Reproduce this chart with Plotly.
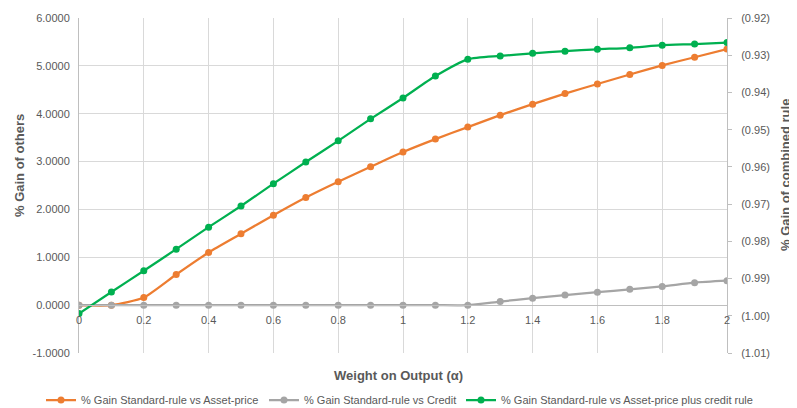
import plotly.graph_objects as go

alpha = [0, 0.1, 0.2, 0.3, 0.4, 0.5, 0.6, 0.7, 0.8, 0.9, 1.0,
         1.1, 1.2, 1.3, 1.4, 1.5, 1.6, 1.7, 1.8, 1.9, 2.0]

gain_asset = [0.0, 0.0, 0.16, 0.64, 1.10, 1.49, 1.88, 2.25, 2.58, 2.89, 3.20,
              3.47, 3.72, 3.97, 4.20, 4.42, 4.62, 4.82, 5.01, 5.18, 5.35]

gain_credit = [0.0, 0.0, 0.0, 0.0, 0.0, 0.0, 0.0, 0.0, 0.0, 0.0, 0.0,
               0.0, 0.0, 0.075, 0.146, 0.21, 0.27, 0.33, 0.39, 0.47, 0.51]

gain_combined = [-0.9994, -0.9936, -0.9879, -0.9821, -0.9762, -0.9705, -0.9645,
                 -0.9587, -0.9530, -0.9471, -0.9415, -0.9356, -0.9311, -0.9302,
                 -0.9295, -0.9289, -0.9284, -0.9280, -0.9273, -0.9270, -0.9266]

left_ticks = [-1, 0, 1, 2, 3, 4, 5, 6]
left_labels = ["-1.0000", "0.0000", "1.0000", "2.0000", "3.0000", "4.0000", "5.0000", "6.0000"]
right_ticks = [-1.01, -1.00, -0.99, -0.98, -0.97, -0.96, -0.95, -0.94, -0.93, -0.92]
right_labels = ["(1.01)", "(1.00)", "(0.99)", "(0.98)", "(0.97)", "(0.96)", "(0.95)", "(0.94)", "(0.93)", "(0.92)"]
x_ticks = [0, 0.2, 0.4, 0.6, 0.8, 1.0, 1.2, 1.4, 1.6, 1.8, 2.0]
x_labels = ["0", "0.2", "0.4", "0.6", "0.8", "1", "1.2", "1.4", "1.6", "1.8", "2"]

names = ["% Gain Standard-rule vs Asset-price",
         "% Gain Standard-rule vs Credit",
         "% Gain Standard-rule vs Asset-price plus credit rule"]
colors = ["#ED7D31", "#A5A5A5", "#00B050"]

FONT = "Liberation Sans"
TXT = "#595959"

# page body has an 8px margin, so the figure is 8px smaller and all
# reference pixel positions are shifted by 8
OFF = 8
W, H = 797 - OFF, 408 - OFF
PL, PR, PT, PB = 79 - OFF, 727 - OFF, 18 - OFF, 353 - OFF
PW, PH = PR - PL, PB - PT


def px(xr):
    return (xr - OFF - PL) / PW


def py(yr):
    return (PB - (yr - OFF)) / PH


fig = go.Figure()
for ys, nm, c, ax, lg in [(gain_asset, names[0], colors[0], "y", "legend"),
                          (gain_credit, names[1], colors[1], "y", "legend2"),
                          (gain_combined, names[2], colors[2], "y2", "legend3")]:
    fig.add_trace(go.Scatter(
        x=alpha, y=ys, name=nm, yaxis=ax, mode="lines+markers", legend=lg,
        line=dict(color=c, width=2.25, shape="spline", smoothing=0.6),
        marker=dict(color=c, size=7),
    ))

leg_common = dict(orientation="h", y=py(400), yanchor="middle", xanchor="left",
                  font=dict(size=11, color=TXT, family=FONT), itemwidth=30,
                  bgcolor="rgba(0,0,0,0)", borderwidth=0)

fig.update_layout(
    width=W, height=H,
    margin=dict(l=PL, r=W - PR, t=PT, b=H - PB, autoexpand=False),
    paper_bgcolor="white", plot_bgcolor="white",
    font=dict(family=FONT, size=11, color=TXT),
    showlegend=True,
    legend=dict(x=px(41), **leg_common),
    legend2=dict(x=px(264), **leg_common),
    legend3=dict(x=px(461), **leg_common),
    xaxis=dict(range=[0, 2], tickvals=x_ticks, ticktext=x_labels,
               showgrid=True, gridcolor="#D9D9D9", gridwidth=1,
               showline=True, linecolor="#BFBFBF", linewidth=1,
               anchor="free", position=1/7, ticks="", zeroline=False,
               ticklabelstandoff=5,
               tickfont=dict(size=11, color=TXT)),
    yaxis=dict(range=[-1, 6], tickvals=left_ticks, ticktext=left_labels,
               showgrid=True, gridcolor="#D9D9D9", gridwidth=1,
               showline=True, linecolor="#BFBFBF", linewidth=1,
               zeroline=False, ticks="", ticklabelstandoff=6,
               tickfont=dict(size=11, color=TXT)),
    yaxis2=dict(range=[-1.01, -0.92], tickvals=right_ticks, ticktext=right_labels,
                overlaying="y", side="right", showgrid=False,
                showline=True, linecolor="#BFBFBF", linewidth=1,
                zeroline=False, ticks="outside", ticklen=4, tickcolor="#BFBFBF",
                ticklabelstandoff=7,
                tickfont=dict(size=11, color=TXT)),
    annotations=[
        dict(text="<b>Weight on Output (α)</b>", xref="paper", yref="paper",
             x=px(398), y=py(375), xanchor="center", yanchor="middle",
             showarrow=False, font=dict(size=13, color=TXT)),
        dict(text="<b>% Gain of others</b>", xref="paper", yref="paper",
             x=px(19), y=py(166), xanchor="center", yanchor="middle",
             showarrow=False, textangle=-90, font=dict(size=13, color=TXT)),
        dict(text="<b>% Gain of combined rule</b>", xref="paper", yref="paper",
             x=px(786), y=py(175), xanchor="center", yanchor="middle",
             showarrow=False, textangle=-90, font=dict(size=13, color=TXT)),
    ],
)

fig.write_html("out.html")
